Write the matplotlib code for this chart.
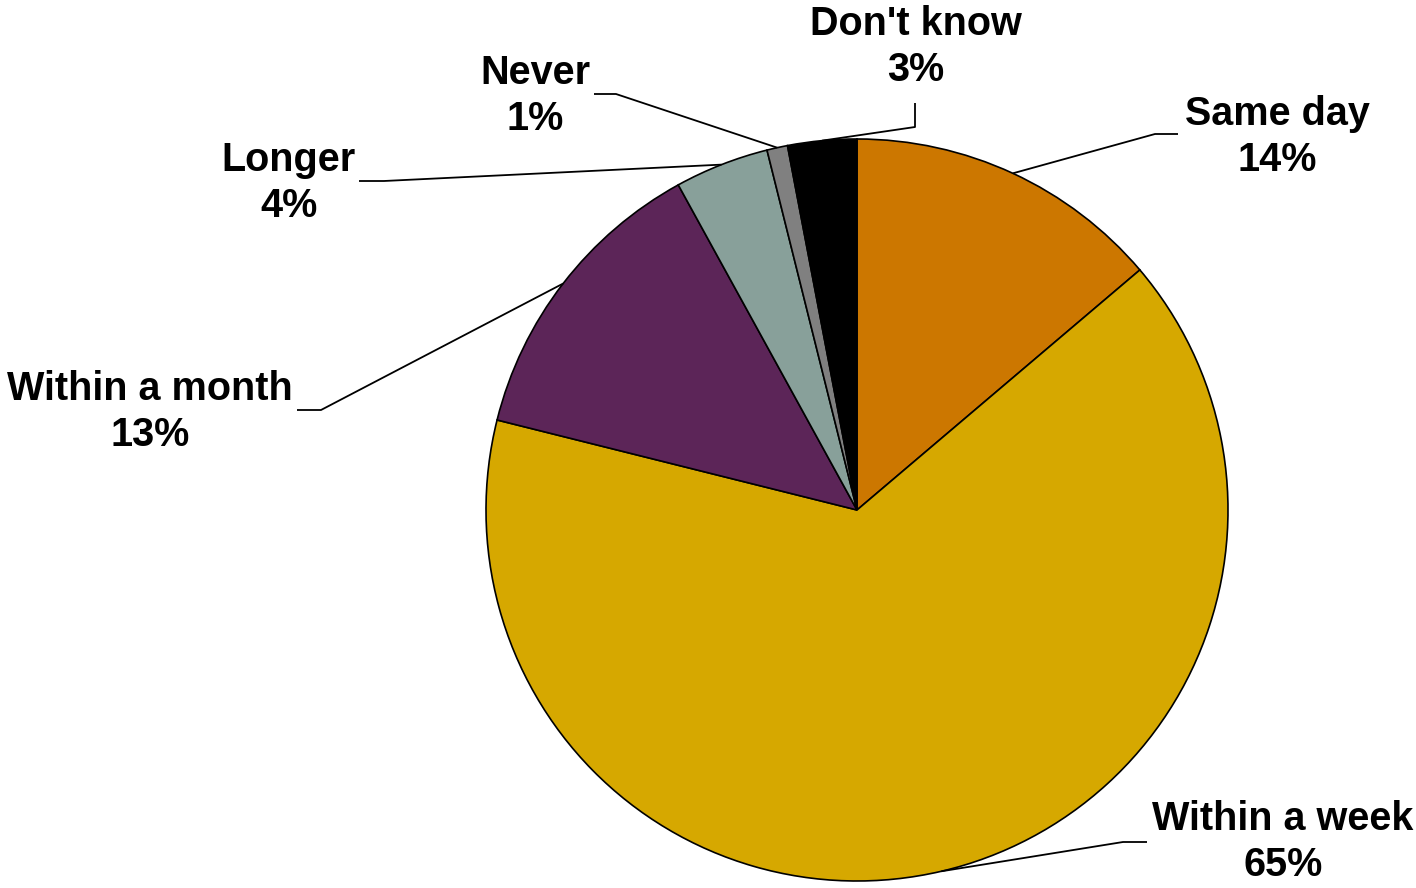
import numpy as np
import matplotlib.pyplot as plt

# Share of responses, clockwise from 12 o'clock
categories = ['Same day', 'Within a week', 'Within a month', 'Longer', 'Never', "Don't know"]
values = [13.8, 65.1, 13.1, 4.1, 0.9, 3.0]
pct_labels = ['14%', '65%', '13%', '4%', '1%', '3%']
colors = ['#CC7700', '#D6A800', '#5C2558', '#88A09A', '#808080', '#000000']

W, H = 1416, 888
fig = plt.figure(figsize=(W / 100, H / 100), dpi=100)
ax = fig.add_axes([0, 0, 1, 1])

cx, cy, r = 857, H - 510, 371
wedges, _ = ax.pie(values, colors=colors, startangle=90, counterclock=False,
                   center=(cx, cy), radius=r, frame=True,
                   wedgeprops=dict(edgecolor='black', linewidth=1.2))
ax.set_xlim(0, W)
ax.set_ylim(0, H)
ax.set_aspect('equal')
ax.axis('off')

# label layout in pixel coords (top-left origin): text centre, elbow, line end
layout = [
    dict(text=(1277, 137), elbow=(1155, 134), end=(1178, 134)),
    dict(text=(1283, 842), elbow=(1123, 842), end=(1147, 842)),
    dict(text=(150, 412), elbow=(321, 410), end=(297, 410)),
    dict(text=(289, 183), elbow=(384, 181), end=(359, 181)),
    dict(text=(535, 96), elbow=(616, 94), end=(594, 94)),
    dict(text=(916, 47), elbow=(915, 127), end=(915, 103)),
]

for w, cat, pct, lay in zip(wedges, categories, pct_labels, layout):
    mid = np.deg2rad((w.theta1 + w.theta2) / 2)
    sx, sy = cx + r * np.cos(mid), cy + r * np.sin(mid)
    ex, ey = lay['elbow']
    hx, hy = lay['end']
    ax.plot([sx, ex, hx], [sy, H - ey, H - hy], color='black', lw=1.3,
            solid_capstyle='butt', zorder=5)
    tx, ty = lay['text']
    ax.text(tx, H - ty, f'{cat}\n{pct}', ha='center', va='center',
            fontsize=28.5, fontweight='bold', family='Liberation Sans',
            linespacing=1.27, color='black')

fig.savefig('out.png', dpi=100)
